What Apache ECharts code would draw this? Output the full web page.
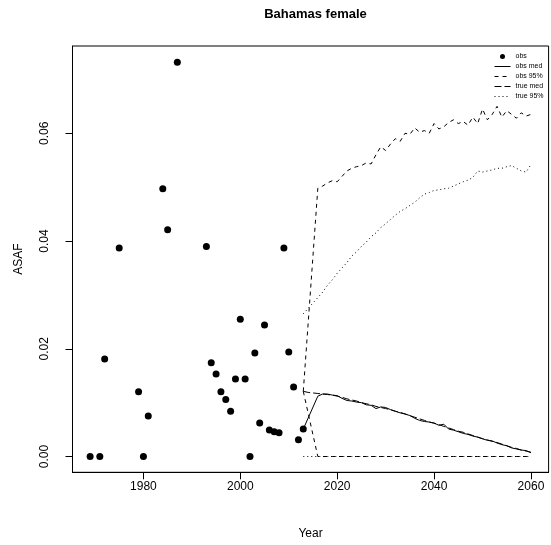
<!DOCTYPE html>
<html>
<head>
<meta charset="utf-8">
<script src="https://cdn.jsdelivr.net/npm/echarts@6/dist/echarts.min.js"></script>
<style>html,body{margin:0;padding:0;background:#fff}#c{width:551px;height:545px}</style>
</head>
<body>
<div id="c"></div>
<script>
const obsYears = [1969,1971,1972,1975,1979,1980,1981,1984,1985,1987,1993,1994,1995,1996,1997,1998,1999,2000,2001,2002,2003,2004,2005,2006,2007,2008,2009,2010,2011,2012,2013];
const obsValues = [0.0,0.0,0.0181,0.0387,0.0120,0.0,0.0075,0.0497,0.0421,0.0732,0.0390,0.0174,0.0153,0.0120,0.0106,0.0084,0.0144,0.0255,0.0144,0.0,0.0192,0.0062,0.0244,0.0049,0.0046,0.0044,0.0387,0.0194,0.0129,0.0031,0.0051];

const projYears = [2013,2014,2015,2016,2017,2018,2019,2020,2021,2022,2023,2024,2025,2026,2027,2028,2029,2030,2031,2032,2033,2034,2035,2036,2037,2038,2039,2040,2041,2042,2043,2044,2045,2046,2047,2048,2049,2050,2051,2052,2053,2054,2055,2056,2057,2058,2059,2060];
const obsMed = [0.0051,null,null,0.0112,0.0116,0.0116,0.0114,0.0113,0.0108,0.0104,0.0103,0.0101,0.0100,0.0096,0.0095,0.0089,0.0092,0.0091,0.0087,0.0084,0.0081,0.0079,0.0076,0.0071,0.0067,0.0065,0.0064,0.0062,0.0058,0.0060,0.0051,0.0049,0.0046,0.0043,0.0041,0.0038,0.0036,0.0033,0.0030,0.0029,0.0025,0.0022,0.0020,0.0016,0.0014,0.0012,0.0011,0.0007];
const obs95Upper = [0.0121,null,null,0.0498,0.0502,0.0508,0.0512,0.0510,0.0520,0.0530,0.0535,0.0538,0.0540,0.0545,0.0543,0.0560,0.0575,0.0568,0.0580,0.0590,0.0585,0.0600,0.0598,0.0610,0.0602,0.0605,0.0600,0.0618,0.0608,0.0612,0.0620,0.0625,0.0618,0.0622,0.0615,0.0630,0.0618,0.0645,0.0625,0.0635,0.0650,0.0630,0.0642,0.0635,0.0628,0.0638,0.0632,0.0635];
const obs95Lower = [0.0121,null,null,0,0,0,0,0,0,0,0,0,0,0,0,0,0,0,0,0,0,0,0,0,0,0,0,0,0,0,0,0,0,0,0,0,0,0,0,0,0,0,0,0,0,0,0,0];
const trueMed = [0.0121,0.0119,0.0118,0.0117,0.0116,0.0115,0.0114,0.0112,0.0110,0.0107,0.0105,0.0103,0.0100,0.0098,0.0096,0.0093,0.0091,0.0089,0.0087,0.0084,0.0082,0.0079,0.0076,0.0073,0.0070,0.0067,0.0064,0.0062,0.0059,0.0056,0.0053,0.0050,0.0047,0.0045,0.0042,0.0039,0.0036,0.0033,0.0031,0.0028,0.0026,0.0023,0.0020,0.0017,0.0015,0.0012,0.0010,0.0008];
const true95Upper = [0.0265,0.0275,0.0285,0.0295,0.0305,0.0318,0.0328,0.0340,0.0350,0.0360,0.0372,0.0380,0.0390,0.0398,0.0408,0.0415,0.0425,0.0432,0.0440,0.0448,0.0455,0.0460,0.0466,0.0472,0.0480,0.0487,0.0490,0.0494,0.0495,0.0497,0.0498,0.0502,0.0506,0.0510,0.0513,0.0518,0.0530,0.0528,0.0530,0.0532,0.0535,0.0535,0.0538,0.0540,0.0535,0.0530,0.0528,0.0542];
const true95Lower = [0,0,0,0,0,0,0,0,0,0,0,0,0,0,0,0,0,0,0,0,0,0,0,0,0,0,0,0,0,0,0,0,0,0,0,0,0,0,0,0,0,0,0,0,0,0,0,0];

const xTicks = [1980,2000,2020,2040,2060];
const yTicks = [0,0.02,0.04,0.06];
const legendNames = ['obs','obs med','obs 95%','true med','true 95%'];

const FONT = 'Liberation Sans, Arial, sans-serif';
function pairs(xs, ys){ const out=[]; xs.forEach((x,i)=>{ if(ys[i]!==null) out.push([x, ys[i]]); }); return out; }
function lineSeries(name, vals, type){
  return {name, type:'line', data: pairs(projYears, vals), symbol:'none', showSymbol:false,
    lineStyle:{color:'#000', width:1, type}, itemStyle:{color:'#000'}, silent:true, animation:false};
}

const chart = echarts.init(document.getElementById('c'), null, {renderer:'canvas'});
chart.setOption({
  animation:false,
  backgroundColor:'#fff',
  title:{text:'Bahamas female', left:310.5, top:3, textAlign:'center',
    textStyle:{fontFamily:FONT, fontSize:13, fontWeight:'bold', color:'#000'}},
  legend:{
    data: legendNames.map((n,i)=> i===0
      ? {name:n, icon:'circle', itemStyle:{opacity:1}}
      : {name:n, itemStyle:{opacity:0}}),
    orient:'vertical', left:489, top:48, itemWidth:16, itemHeight:5, itemGap:3,
    textStyle:{fontFamily:FONT, fontSize:7, color:'#000'}, lineStyle:{width:1}, selectedMode:false},
  grid:{left:72.5, right:2.4, top:46, bottom:72.7, show:true, borderColor:'#000', borderWidth:1, backgroundColor:'transparent'},
  xAxis:{type:'value', min:1965.36, max:2063.64, name:'Year', nameLocation:'middle', nameGap:55,
    nameTextStyle:{fontFamily:FONT, fontSize:12, color:'#000'},
    axisLine:{show:true, onZero:false, lineStyle:{color:'#000', width:1}}, splitLine:{show:false},
    axisTick:{show:true, inside:false, length:7, customValues:xTicks, lineStyle:{color:'#000', width:1}},
    axisLabel:{customValues:xTicks, margin:8, fontFamily:FONT, fontSize:12, color:'#000', formatter:v=>String(v)}},
  yAxis:{type:'value', min:-0.00293, max:0.0762, name:'ASAF', nameLocation:'middle', nameGap:47.5, nameRotate:90,
    nameTextStyle:{fontFamily:FONT, fontSize:12, color:'#000'},
    axisLine:{show:true, onZero:false, lineStyle:{color:'#000', width:1}}, splitLine:{show:false},
    axisTick:{show:true, inside:false, length:7, customValues:yTicks, lineStyle:{color:'#000', width:1}},
    axisLabel:{customValues:yTicks, rotate:90, margin:22, fontFamily:FONT, fontSize:12, color:'#000', formatter:v=>v.toFixed(2)}},
  series:[
    {name:'obs', type:'scatter', data: pairs(obsYears, obsValues), symbol:'circle', symbolSize:7,
      itemStyle:{color:'#000', opacity:1}, silent:true},
    lineSeries('obs med', obsMed, 'solid'),
    lineSeries('obs 95%', obs95Upper, [4,4]),
    lineSeries('obs 95%', obs95Lower, [4,4]),
    lineSeries('true med', trueMed, [7,3]),
    lineSeries('true 95%', true95Upper, [1,3]),
    lineSeries('true 95%', true95Lower, [1,3])
  ]
});
</script>
</body>
</html>
